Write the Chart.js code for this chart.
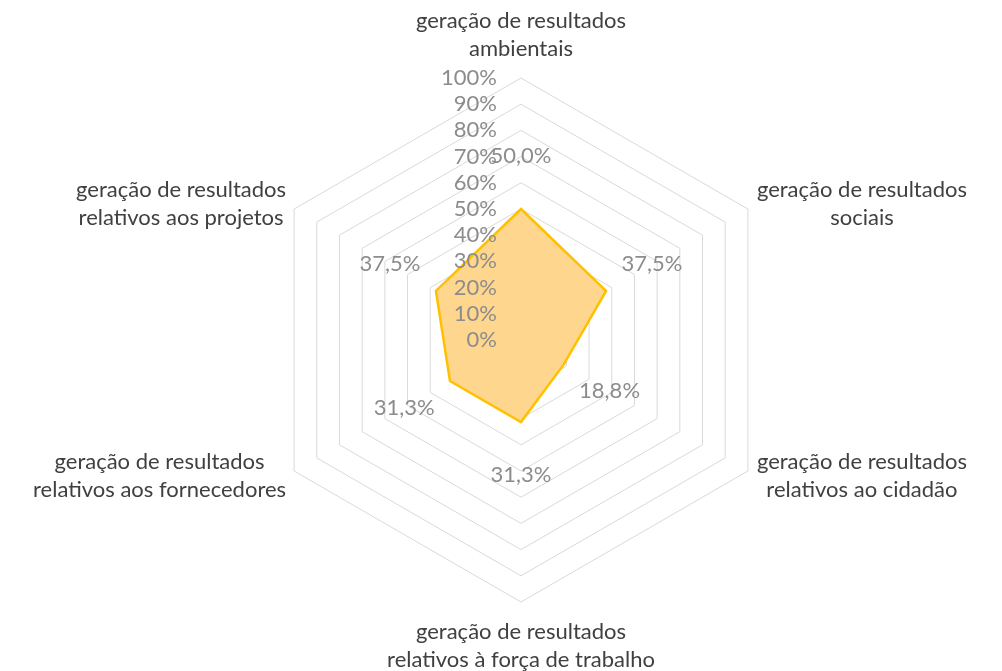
<!DOCTYPE html>
<html lang="pt">
<head>
  <meta charset="UTF-8">
  <title>Radar</title>
  <script src="https://cdn.jsdelivr.net/npm/chart.js"></script>
  <style>
    body { margin: 0; background: #fff; }
    #wrap { width: 1002px; height: 671px; position: relative; }
  </style>
</head>
<body>
  <div id="wrap"><canvas id="radar"></canvas></div>
  <script>
    // categories (two text lines each, as in the original)
    const categories = [
      ["geração de resultados", "ambientais"],
      ["geração de resultados", "sociais"],
      ["geração de resultados", "relativos ao cidadão"],
      ["geração de resultados", "relativos à força de trabalho"],
      ["geração de resultados", "relativos aos fornecedores"],
      ["geração de resultados", "relativos aos projetos"]
    ];
    const values = [50.0, 37.5, 18.8, 31.3, 31.3, 37.5];
    const tickValues = [0, 10, 20, 30, 40, 50, 60, 70, 80, 90, 100];

    const FONT = '22px Lato, "Open Sans", sans-serif';
    const greyText = '#8c8c8c';
    const darkText = '#404040';

    // Excel-like labels: axis ticks left of the spoke, values outside points, centred category blocks
    const excelLabels = {
      id: 'excelLabels',
      afterDatasetsDraw(chart) {
        const ctx = chart.ctx;
        const r = chart.scales.r;
        ctx.save();
        ctx.font = FONT;
        ctx.textBaseline = 'middle';

        // tick labels
        ctx.fillStyle = greyText;
        ctx.textAlign = 'right';
        tickValues.forEach(v => {
          const d = r.getDistanceFromCenterForValue(v);
          ctx.fillText(v + '%', r.xCenter - 24, r.yCenter - d);
        });

        // data labels
        ctx.textAlign = 'center';
        chart.getDatasetMeta(0).data.forEach((pt, i) => {
          const a = r.getIndexAngle(i) - Math.PI / 2;
          const x = pt.x + Math.cos(a) * 53;
          const y = pt.y + Math.sin(a) * 53;
          ctx.fillText(values[i].toFixed(1).replace('.', ',') + '%', x, y);
        });

        // category labels
        ctx.fillStyle = darkText;
        const lh = 28;
        categories.forEach((lines, i) => {
          const p = r.getPointPosition(i, r.drawingArea);
          const a = r.getIndexAngle(i) - Math.PI / 2;
          const c = Math.cos(a), s = Math.sin(a);
          const w = Math.max(...lines.map(t => ctx.measureText(t).width));
          let cx, cy;
          if (c > 0.1) {
            cx = p.x + 9 + w / 2;
            cy = p.y + s * 10;
          } else if (c < -0.1) {
            cx = p.x - 8 - w / 2;
            cy = p.y + s * 10;
          } else if (s < 0) {
            cx = p.x;
            cy = p.y - 15 - lines.length * lh / 2;
          } else {
            cx = p.x;
            cy = p.y + 16 + lines.length * lh / 2;
          }
          const y0 = cy - (lines.length - 1) * lh / 2;
          lines.forEach((t, k) => ctx.fillText(t, cx, y0 + k * lh));
        });
        ctx.restore();
      }
    };

    new Chart(document.getElementById('radar'), {
      type: 'radar',
      data: {
        labels: categories,
        datasets: [{
          data: values,
          backgroundColor: '#fed68e',
          borderColor: '#ffc000',
          borderWidth: 2.5,
          pointRadius: 0,
          fill: true,
          tension: 0
        }]
      },
      options: {
        responsive: true,
        maintainAspectRatio: false,
        animation: false,
        layout: { padding: { top: 78, bottom: 69, left: 250, right: 210 } },
        plugins: { legend: { display: false }, tooltip: { enabled: false } },
        scales: {
          r: {
            min: 0,
            max: 100,
            ticks: { stepSize: 10, display: false },
            grid: { color: '#d9d9d9', lineWidth: 1 },
            angleLines: { display: false },
            pointLabels: { display: false }
          }
        }
      },
      plugins: [excelLabels]
    });
  </script>
</body>
</html>
